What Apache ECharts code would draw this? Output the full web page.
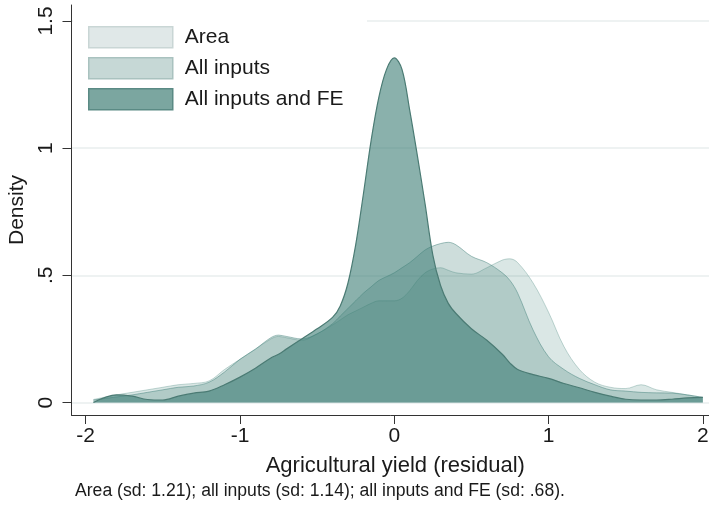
<!DOCTYPE html>
<html>
<head>
<meta charset="utf-8">
<script src="https://cdn.jsdelivr.net/npm/echarts@6/dist/echarts.min.js"></script>
<style>
    html, body { margin: 0; background: #fff; }
    #chart { width: 709px; height: 511px; }
</style>
</head>
<body>
<div id="chart"></div>
<script>
    // residual grid (x) shared by the three densities
    const residuals = [-1.95, -1.8, -1.7, -1.6, -1.5, -1.4, -1.3, -1.2, -1.1, -1.0,
        -0.9, -0.8, -0.75, -0.7, -0.6, -0.5, -0.4, -0.35, -0.3, -0.25,
        -0.2, -0.15, -0.1, -0.05, 0, 0.05, 0.1, 0.15, 0.2, 0.25,
        0.3, 0.35, 0.4, 0.5, 0.6, 0.7, 0.75, 0.8, 0.9, 1.0,
        1.1, 1.2, 1.3, 1.4, 1.5, 1.6, 1.7, 1.8, 1.9, 2.0];

    const areaDensity = [0.012, 0.03, 0.04, 0.05, 0.06, 0.07, 0.075, 0.085, 0.13, 0.17,
        0.21, 0.25, 0.26, 0.255, 0.245, 0.27, 0.305, 0.325, 0.345, 0.36,
        0.375, 0.39, 0.40, 0.40, 0.40, 0.41, 0.44, 0.48, 0.51, 0.525,
        0.53, 0.52, 0.51, 0.505, 0.53, 0.56, 0.565, 0.55, 0.47, 0.355,
        0.22, 0.13, 0.08, 0.06, 0.055, 0.07, 0.05, 0.04, 0.03, 0.02];

    const inputsDensity = [0.01, 0.022, 0.03, 0.04, 0.05, 0.06, 0.065, 0.08, 0.12, 0.17,
        0.21, 0.255, 0.265, 0.26, 0.25, 0.27, 0.31, 0.34, 0.37, 0.40,
        0.43, 0.455, 0.48, 0.495, 0.51, 0.53, 0.55, 0.575, 0.60, 0.615,
        0.625, 0.63, 0.62, 0.575, 0.55, 0.51, 0.48, 0.43, 0.285, 0.18,
        0.13, 0.095, 0.07, 0.05, 0.045, 0.04, 0.038, 0.037, 0.03, 0.02];

    const feDensity = [0.0, 0.03, 0.025, 0.012, 0.01, 0.025, 0.037, 0.045, 0.07, 0.10,
        0.135, 0.175, 0.19, 0.21, 0.25, 0.29, 0.335, 0.38, 0.47, 0.62,
        0.82, 1.03, 1.2, 1.31, 1.355, 1.31, 1.15, 0.97, 0.78, 0.58,
        0.46, 0.39, 0.35, 0.29, 0.245, 0.19, 0.155, 0.13, 0.11, 0.095,
        0.075, 0.058, 0.04, 0.025, 0.013, 0.01, 0.01, 0.013, 0.018, 0.02];

    const xTicks = [-2, -1, 0, 1, 2];
    const yTicks = [0, 0.5, 1, 1.5];
    const yTickLabels = ['0', '.5', '1', '1.5'];
    const seriesNames = ['Area', 'All inputs', 'All inputs and FE'];
    const caption = 'Area (sd: 1.21); all inputs (sd: 1.14); all inputs and FE (sd: .68).';

    const font = '"Liberation Sans", Arial, sans-serif';
    const pairs = ys => residuals.map((x, i) => [x, ys[i]]);

    const makeSeries = (name, ys, fill, line, lineWidth) => ({
        name: name,
        type: 'line',
        data: pairs(ys),
        smooth: 0.35,
        showSymbol: false,
        silent: true,
        lineStyle: { color: line, width: lineWidth },
        areaStyle: { color: fill, opacity: 1, origin: 0 },
        itemStyle: { color: line }
    });

    const chart = echarts.init(document.getElementById('chart'), null, { renderer: 'canvas' });

    chart.setOption({
        backgroundColor: '#fff',
        animation: false,
        textStyle: { fontFamily: font },
        grid: { left: 71.5, right: 0, top: 5, bottom: 96, containLabel: false, outerBoundsMode: 'none' },
        legend: {
            orient: 'vertical',
            left: 76,
            top: 18,
            padding: [8, 14, 8, 12],
            icon: 'rect',
            itemWidth: 84,
            itemHeight: 21,
            itemGap: 8.5,
            selectedMode: false,
            textStyle: { fontSize: 21, color: '#1a1a1a', fontFamily: font, padding: [0, 0, 0, 7] },
            data: [
                { name: seriesNames[0], itemStyle: { color: '#e0e8e8', borderColor: '#c9d6d5', borderWidth: 1.5 } },
                { name: seriesNames[1], itemStyle: { color: '#c6d8d6', borderColor: '#a9c2bf', borderWidth: 1.5 } },
                { name: seriesNames[2], itemStyle: { color: '#7ba6a0', borderColor: '#5a8a84', borderWidth: 1.5 } }
            ]
        },
        xAxis: {
            type: 'value',
            min: -2.092,
            max: 2.04,
            name: 'Agricultural yield (residual)',
            nameLocation: 'middle',
            nameGap: 40,
            nameTextStyle: { fontSize: 22, color: '#1a1a1a', fontFamily: font, padding: [0, 0, 0, 10] },
            axisLine: { show: true, onZero: false, lineStyle: { color: '#333', width: 1 } },
            axisTick: { show: true, length: 9, customValues: xTicks, lineStyle: { color: '#333' } },
            axisLabel: { customValues: xTicks, fontSize: 21, color: '#1a1a1a', margin: 11, fontFamily: font,
                formatter: v => String(v) },
            splitLine: { show: false }
        },
        yAxis: {
            type: 'value',
            min: -0.049,
            max: 1.563,
            name: 'Density',
            nameLocation: 'middle',
            nameGap: 33,
            nameRotate: 90,
            nameTextStyle: { fontSize: 21, color: '#1a1a1a', fontFamily: font },
            axisLine: { show: true, onZero: false, lineStyle: { color: '#333', width: 1 } },
            axisTick: { show: true, length: 9, customValues: yTicks, lineStyle: { color: '#333' } },
            axisLabel: { customValues: yTicks, rotate: 90, fontSize: 21, color: '#1a1a1a', margin: 15, fontFamily: font,
                formatter: v => yTickLabels[yTicks.indexOf(v)] },
            splitLine: { show: true, lineStyle: { color: '#e9eeee', width: 1.5 } }
        },
        graphic: [
            // white legend box hiding the 1.5 grid line
            {
                type: 'rect',
                z: 3,
                silent: true,
                shape: { x: 73, y: 14, width: 294, height: 100 },
                style: { fill: '#fff' }
            },
            {
                type: 'text',
                left: 75,
                top: 482,
                style: { text: caption, fontSize: 17.6, fill: '#1a1a1a', fontFamily: font }
            }
        ],
        series: [
            makeSeries(seriesNames[0], areaDensity, 'rgba(60,125,117,0.19)', 'rgba(60,125,117,0.3)', 1),
            makeSeries(seriesNames[1], inputsDensity, 'rgba(60,125,117,0.26)', 'rgba(60,125,117,0.45)', 1),
            makeSeries(seriesNames[2], feDensity, 'rgba(60,125,117,0.6)', '#4b7b74', 1.2)
        ]
    });
</script>
</body>
</html>
